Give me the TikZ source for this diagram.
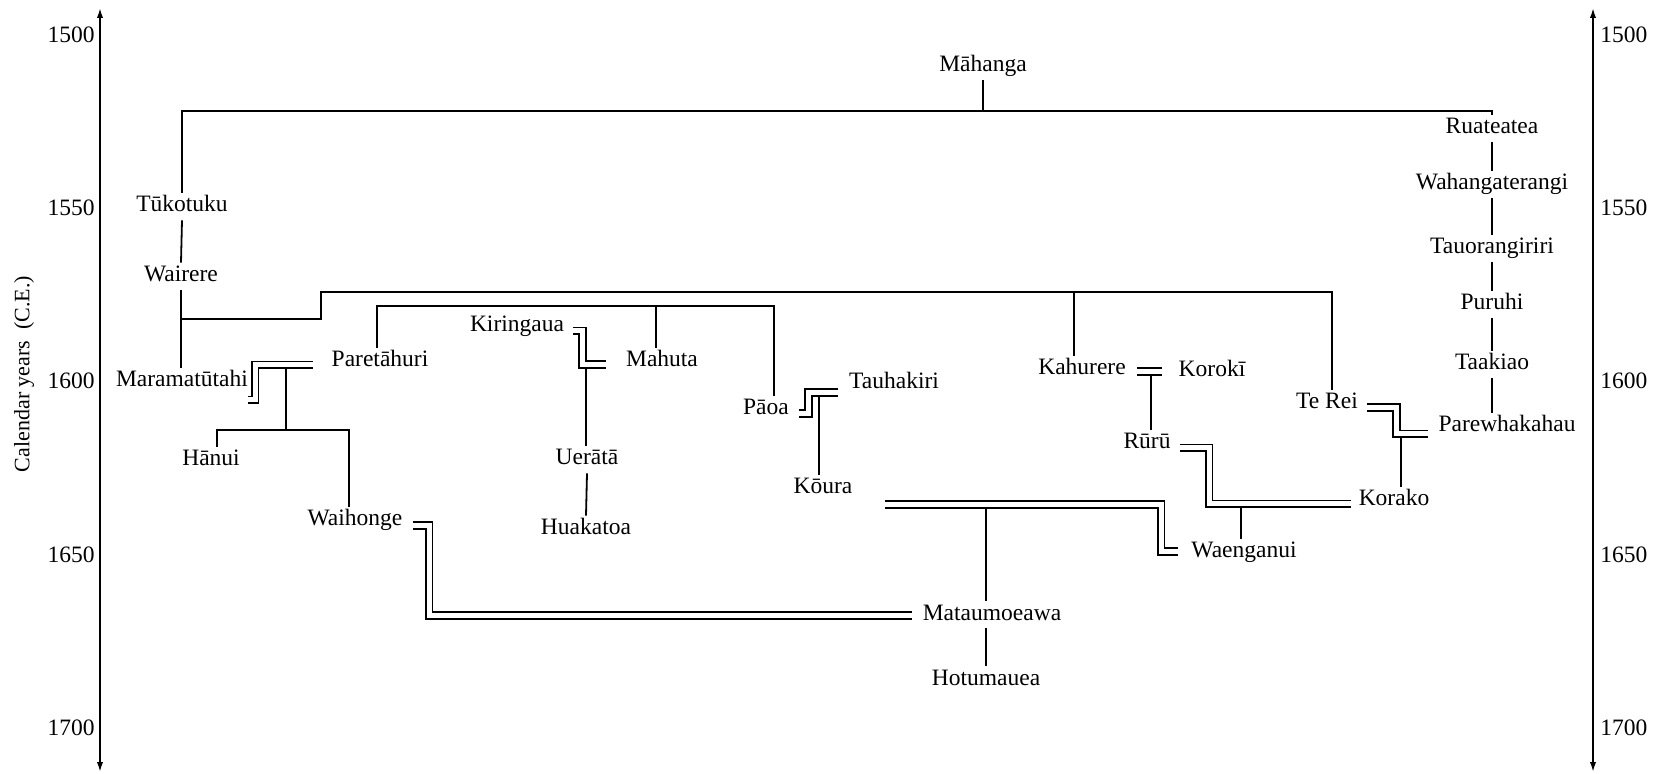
\documentclass[tikz,border=0pt]{standalone}
\usepackage{fontspec}
\setmainfont{Liberation Serif}
\usetikzlibrary{arrows.meta}
\begin{document}
\begin{tikzpicture}[x=0.5pt,y=-0.5pt,
  person/.style={inner xsep=0pt, inner ysep=2pt, text height=0.75em, text depth=0.2em,
                 yshift=-0.75pt, font=\fontsize{11.75}{14}\selectfont},
  year/.style={inner sep=0pt, font=\fontsize{11.75}{14}\selectfont},
  link/.style={draw=black, line width=0.9pt},
  marriage/.style={draw=black, double=white, double distance=2.5pt, line width=0.85pt},
  axis/.style={draw=black, line width=0.9pt,
               {Latex[length=5pt,width=3.2pt]}-{Latex[length=5pt,width=3.2pt]}}
]
\useasboundingbox (0,0) rectangle (1654,774);

% ---- time axes ----
\coordinate (laxtop) at (100,8);   \coordinate (laxbot) at (100,772);
\coordinate (raxtop) at (1593,8);  \coordinate (raxbot) at (1593,772);
\draw[axis] (laxbot) -- (laxtop);
\draw[axis] (raxbot) -- (raxtop);

\foreach \yr/\yy in {1500/35,1550/208,1600/381,1650/555,1700/728}{
  \node[year, anchor=east] (yl\yr) at (95,\yy) {\yr};
  \node[year, anchor=west] (yr\yr) at (1600,\yy) {\yr};
}
\node[rotate=90, inner sep=0pt, font=\fontsize{11}{13}\selectfont] (ytitle) at (24,374)
  {Calendar years\ \ (C.E.)};

% ---- people ----
\node[person] (mahanga)   at (983,65)   {Māhanga};
\node[person] (ruateatea) at (1492,127) {Ruateatea};
\node[person] (wahanga)   at (1492,183) {Wahangaterangi};
\node[person] (tauora)    at (1492,247) {Tauorangiriri};
\node[person] (puruhi)    at (1492,303) {Puruhi};
\node[person] (taakiao)   at (1492,363) {Taakiao};
\node[person] (parewha)   at (1507,425) {Parewhakahau};
\node[person] (tukotuku)  at (182,205)  {Tūkotuku};
\node[person] (wairere)   at (181,275)  {Wairere};
\node[person] (marama)    at (182,380)  {Maramatūtahi};
\node[person] (pare)      at (380,360)  {Paretāhuri};
\node[person] (hanui)     at (211,459)  {Hānui};
\node[person] (waihonge)  at (355,519)  {Waihonge};
\node[person] (kiringaua) at (517,325)  {Kiringaua};
\node[person] (mahuta)    at (662,360)  {Mahuta};
\node[person] (uerata)    at (587,458)  {Uerātā};
\node[person] (huakatoa)  at (586,528)  {Huakatoa};
\node[person] (paoa)      at (766,408)  {Pāoa};
\node[person] (tauhakiri) at (894,382)  {Tauhakiri};
\node[person] (koura)     at (823,487)  {Kōura};
\node[person] (kahurere)  at (1082,368) {Kahurere};
\node[person] (koroki)    at (1212,370) {Korokī};
\node[person] (ruru)      at (1147,442) {Rūrū};
\node[person] (korako)    at (1394,499) {Korako};
\node[person] (waenganui) at (1244,551) {Waenganui};
\node[person] (terei)     at (1327,402) {Te Rei};
\node[person] (mata)      at (992,613)  {Mataumoeawa};
\node[person] (hotu)      at (986,678)  {Hotumauea};

% ---- descent lines ----
\coordinate (topbar) at (983,111);
\draw[link] (mahanga.south) -- (topbar);
\draw[link] (tukotuku.north) |- (topbar) -| (ruateatea.north);

\draw[link] (ruateatea.south) -- (wahanga.north);
\draw[link] (wahanga.south) -- (tauora.north);
\draw[link] (tauora.south) -- (puruhi.north);
\draw[link] (puruhi.south) -- (taakiao.north);
\draw[link] (taakiao.south) -- (taakiao.south |- parewha.north);

\draw[link] (tukotuku.south) -- (wairere.north);
\draw[link] (wairere.south) -- (wairere.south |- marama.north);
\draw[link] (182,319) -| (321,292) -| (terei.north -| 1332,0);
\draw[link] (1074,292) -- (kahurere.north -| 1074,0);

\draw[link] (pare.north -| 377,0) |- (774,306) -- (paoa.north -| 774,0);
\draw[link] (656,306) -- (mahuta.north -| 656,0);

% children of unions
\draw[link] (286,365) -- (286,430);
\draw[link] (hanui.north -| 217,0) |- (349,430) -- (waihonge.north -| 349,0);
\draw[link] (586,364.5) -- (uerata.north -| 586,0);
\draw[link] (uerata.south) -- (huakatoa.north);
\draw[link] (819,392.5) -- (koura.north -| 819,0);
\draw[link] (986,504.5) -- (mata.north -| 986,0);
\draw[link] (mata.south -| 986,0) -- (hotu.north);
\draw[link] (1151,371.5) -- (ruru.north -| 1151,0);
\draw[link] (1241,504) -- (waenganui.north -| 1241,0);
\draw[link] (1401,434) -- (korako.north -| 1401,0);

% ---- unions (double lines) ----
\draw[marriage, shorten >=9pt] (marama.east |- 0,400) -| (255,365) -- (pare.west |- 0,365);
\draw[marriage, shorten <=5pt, shorten >=5pt] (waihonge.east |- 0,525.5) -| (429,615.5) -- (mata.west |- 0,615.5);
\draw[marriage, shorten <=4.5pt, shorten >=10pt] (kiringaua.east |- 0,331) -| (582.5,364.5) -- (mahuta.west |- 0,364.5);
\draw[marriage, shorten <=5.5pt, shorten >=5pt] (tauhakiri.west |- 0,392.5) -| (808.5,413.5) -- (paoa.east |- 0,413.5);
\coordinate (kouraunion) at (885,504.5);
\draw[marriage, shorten >=6.5pt] (kouraunion) -- (1161,504.5) |- (waenganui.west |- 0,551.5);
\draw[marriage, shorten <=5.5pt, shorten >=8pt] (kahurere.east |- 0,371.5) -- (koroki.west |- 0,371.5);
\draw[marriage, shorten <=4.5pt, shorten >=3.5pt] (ruru.east |- 0,448) -| (1209,504) -- (korako.west |- 0,504);
\draw[marriage, shorten <=4.5pt, shorten >=5pt] (terei.east |- 0,407.5) -| (1396.5,434) -- (parewha.west |- 0,434);

\end{tikzpicture}
\end{document}
